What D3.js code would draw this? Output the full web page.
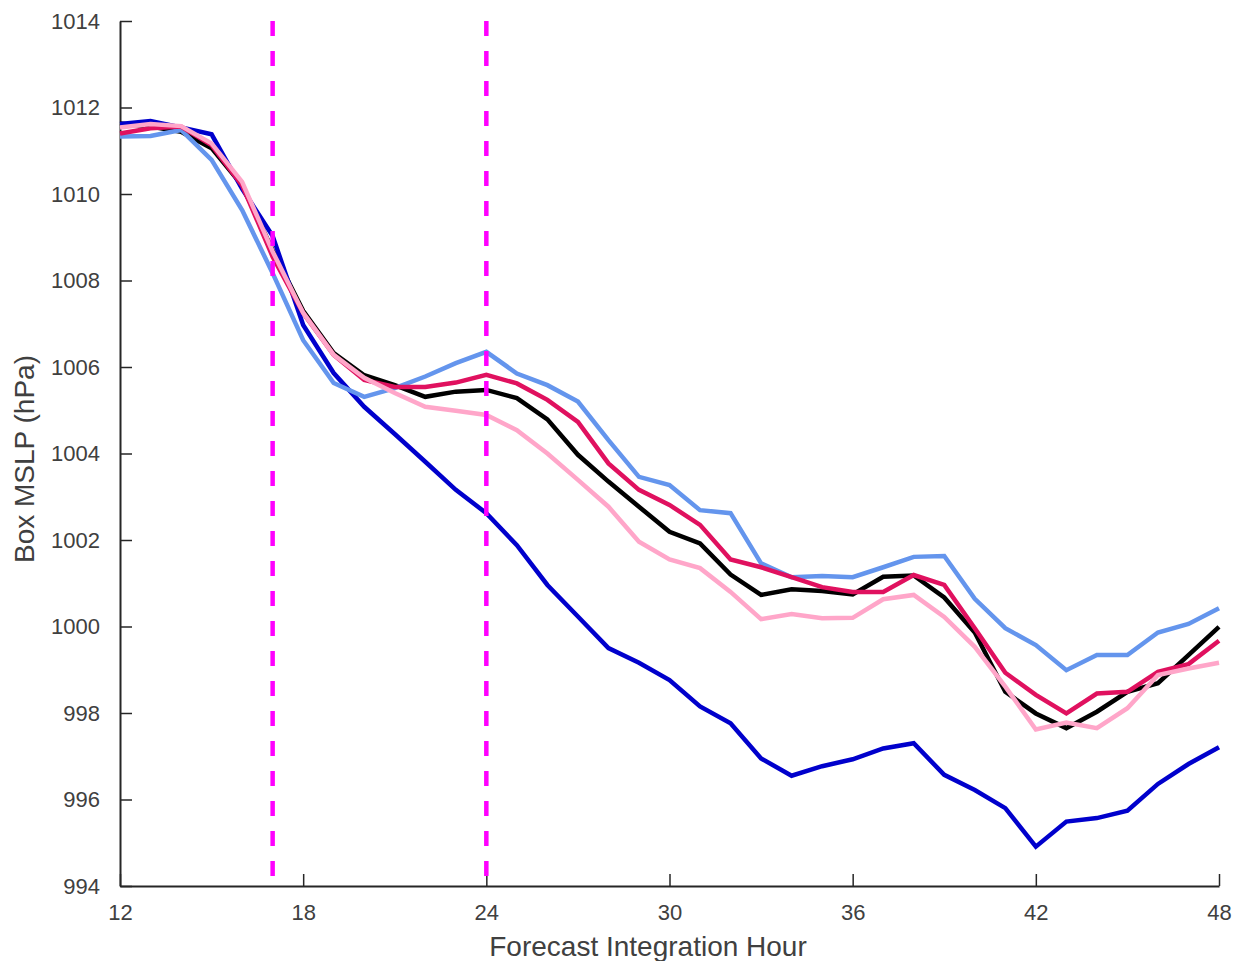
<!DOCTYPE html>
<html>
<head>
<meta charset="utf-8">
<script src="https://cdn.jsdelivr.net/npm/d3@7"></script>
<style>
	body { margin: 0; background: white; }
	text { font-family: "Liberation Sans", Arial, sans-serif; }
</style>
</head>
<body>
<div id="chart"></div>
<script>
const hours = [12, 13, 14, 15, 16, 17, 18, 19, 20, 21, 22, 23, 24, 25, 26, 27, 28, 29, 30,
	31, 32, 33, 34, 35, 36, 37, 38, 39, 40, 41, 42, 43, 44, 45, 46, 47, 48];

const blackRun = [1011.63, 1011.56, 1011.44, 1011.06, 1010.2, 1008.7, 1007.3, 1006.32, 1005.81, 1005.58,
	1005.31, 1005.43, 1005.47, 1005.28, 1004.79, 1003.97, 1003.35, 1002.77, 1002.19, 1001.92,
	1001.2, 1000.73, 1000.86, 1000.82, 1000.74, 1001.15, 1001.18, 1000.67, 999.86, 998.49,
	997.99, 997.65, 998.03, 998.49, 998.69, 999.34, 999.99];
const blueRun = [1011.62, 1011.69, 1011.54, 1011.38, 1010.12, 1009.03, 1006.97, 1005.86, 1005.08, 1004.45,
	1003.81, 1003.16, 1002.62, 1001.88, 1000.96, 1000.23, 999.5, 999.16, 998.76, 998.15,
	997.76, 996.95, 996.55, 996.77, 996.93, 997.18, 997.3, 996.57, 996.22, 995.8,
	994.91, 995.49, 995.57, 995.74, 996.36, 996.82, 997.21];
const lightBlueRun = [1011.33, 1011.34, 1011.48, 1010.79, 1009.63, 1008.17, 1006.62, 1005.63, 1005.31, 1005.51,
	1005.78, 1006.09, 1006.35, 1005.85, 1005.58, 1005.2, 1004.31, 1003.46, 1003.27, 1002.69,
	1002.62, 1001.46, 1001.14, 1001.17, 1001.14, 1001.37, 1001.61, 1001.63, 1000.64, 999.96,
	999.57, 998.99, 999.34, 999.34, 999.86, 1000.06, 1000.42];
const redRun = [1011.4, 1011.52, 1011.56, 1011.13, 1010.2, 1008.55, 1007.25, 1006.28, 1005.7, 1005.54,
	1005.54, 1005.64, 1005.82, 1005.62, 1005.24, 1004.73, 1003.77, 1003.16, 1002.81, 1002.35,
	1001.55, 1001.37, 1001.14, 1000.91, 1000.8, 1000.8, 1001.19, 1000.96, 999.96, 998.93,
	998.42, 997.99, 998.45, 998.49, 998.95, 999.13, 999.67];
const pinkRun = [1011.54, 1011.62, 1011.57, 1011.17, 1010.28, 1008.67, 1007.25, 1006.28, 1005.75, 1005.4,
	1005.08, 1004.99, 1004.89, 1004.54, 1004.0, 1003.39, 1002.77, 1001.96, 1001.55, 1001.35,
	1000.8, 1000.17, 1000.29, 1000.19, 1000.2, 1000.63, 1000.73, 1000.22, 999.53, 998.61,
	997.62, 997.78, 997.65, 998.11, 998.88, 999.03, 999.16];

const markerHours = [17, 24];
const xTicks = [12, 18, 24, 30, 36, 42, 48];
const yTicks = [994, 996, 998, 1000, 1002, 1004, 1006, 1008, 1010, 1012, 1014];

let runs = [
	{ 'name': 'black', 'values': blackRun, 'color': '#000000' },
	{ 'name': 'blue', 'values': blueRun, 'color': '#0000cc' },
	{ 'name': 'lightblue', 'values': lightBlueRun, 'color': '#6495ed' },
	{ 'name': 'red', 'values': redRun, 'color': '#e0115f' },
	{ 'name': 'pink', 'values': pinkRun, 'color': '#ffa6c9' }
]

let svgWidth = 1234
let svgHeight = 961
let padding = { 'left': 120, 'right': 15, 'top': 21, 'bottom': 75 }

let svg = d3.select('#chart').append('svg')
	.attr('width', svgWidth)
	.attr('height', svgHeight)

let x = d3.scaleLinear()
	.domain([12, 48])
	.range([padding.left, svgWidth - padding.right]);
let y = d3.scaleLinear()
	.domain([994, 1014])
	.range([svgHeight - padding.bottom, padding.top]);

let axisColor = '#262626'
let labelColor = '#404040'

// x axis, ticks point inward
let xAxis = svg.append('g')
	.classed('x-axis', true)
	.attr('transform', `translate(0, ${svgHeight - padding.bottom})`)
	.call(d3.axisBottom(x).tickValues(xTicks).tickFormat(d => d).tickSize(-12).tickSizeOuter(0))
xAxis.select('.domain').attr('stroke', axisColor).attr('stroke-width', 2)
xAxis.selectAll('.tick line').attr('stroke', axisColor).attr('stroke-width', 1.5)
xAxis.selectAll('.tick text')
	.attr('y', 18)
	.attr('fill', labelColor)
	.style('font-size', '22px')

let yAxis = svg.append('g')
	.classed('y-axis', true)
	.attr('transform', `translate(${padding.left}, 0)`)
	.call(d3.axisLeft(y).tickValues(yTicks).tickFormat(d => d).tickSize(-12).tickPadding(20).tickSizeOuter(0))
yAxis.select('.domain').attr('stroke', axisColor).attr('stroke-width', 2)
yAxis.selectAll('.tick line').attr('stroke', axisColor).attr('stroke-width', 1.5)
yAxis.selectAll('.tick text')
	.attr('fill', labelColor)
	.style('font-size', '22px')

svg.append('text')
	.attr('x', 648)
	.attr('y', svgHeight - 5)
	.attr('text-anchor', 'middle')
	.attr('fill', labelColor)
	.style('font-size', '28px')
	.text('Forecast Integration Hour')

svg.append('text')
	.attr('transform', `translate(34, 459) rotate(-90)`)
	.attr('text-anchor', 'middle')
	.attr('fill', labelColor)
	.style('font-size', '28px')
	.text('Box MSLP (hPa)')

let line = d3.line()
	.x((d, i) => x(hours[i]))
	.y(d => y(d))

svg.append('g')
	.classed('runs', true)
	.selectAll('path')
	.data(runs)
	.enter()
	.append('path')
	.attr('d', d => line(d.values))
	.attr('fill', 'none')
	.attr('stroke', d => d.color)
	.attr('stroke-width', 4.5)
	.attr('stroke-linejoin', 'miter')

svg.append('g')
	.classed('markers', true)
	.selectAll('line')
	.data(markerHours)
	.enter()
	.append('line')
	.attr('x1', d => x(d))
	.attr('x2', d => x(d))
	.attr('y1', y(1014))
	.attr('y2', y(994))
	.attr('stroke', '#ff00ff')
	.attr('stroke-width', 4.5)
	.attr('stroke-dasharray', '15,15')
</script>
</body>
</html>
